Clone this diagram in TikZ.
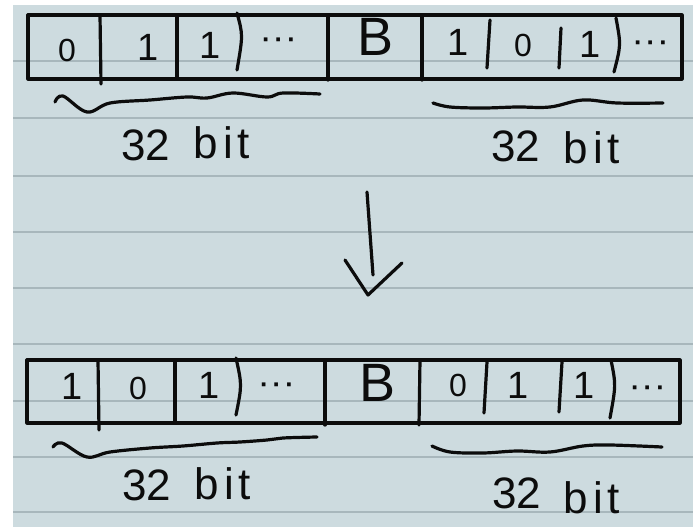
\documentclass[tikz,border=0pt]{standalone}
\usepackage{fontspec}
\setmainfont{Liberation Sans}
\definecolor{paper}{RGB}{205,219,223}
\definecolor{rule}{RGB}{168,183,188}
\definecolor{ink}{RGB}{12,12,12}
\begin{document}
\begin{tikzpicture}[x=1pt,y=-1pt,
  pen/.style={draw=ink,line width=3.2pt,line cap=round,line join=round},
  ruled/.style={draw=rule,line width=2pt},
  digit/.style={inner sep=0pt,text=ink,font=\fontsize{38}{38}\selectfont},
  zero/.style={inner sep=0pt,text=ink,font=\fontsize{32}{32}\selectfont},
  dots/.style={inner sep=0pt,text=ink,font=\fontsize{26}{26}\selectfont\bfseries},
  bigB/.style={inner sep=0pt,text=ink,font=\fontsize{54}{54}\selectfont},
  lbl/.style={inner sep=0pt,text=ink,font=\fontsize{44}{44}\selectfont}]
\useasboundingbox (0,0) rectangle (699,527);
\fill[white] (0,0) rectangle (699,527);
\fill[paper] (13,5) rectangle (693,527);
\foreach \yy in {61,118,176,232,288,344,401,457,512}
  \draw[ruled] (13,\yy) -- (693,\yy);

% ---------- top register ----------
\draw[pen] (28,15) rectangle (682,79);
\draw[pen] (100,15) -- (101,84);
\draw[pen] (177,15) -- (177,79);
\draw[pen] (237,13) .. controls (243,35) .. (237,70);
\draw[pen] (328,15) -- (328,80);
\draw[pen] (422,15) -- (422,80);
\draw[pen] (490,20) -- (487,68);
\draw[pen] (561,28) -- (559,68);
\draw[pen] (616,18) .. controls (621,45) .. (614,72);

\node[zero]  (t1) at (67,50) {0};
\node[digit] (t2) at (148,47) {1};
\node[digit] (t3) at (210,45) {1};
\node[dots]  (t4) at (279,43) {·\hspace{4pt}·\hspace{4pt}·};
\node[bigB]  (t5) at (376,37) {B};
\node[digit] (t6) at (458,42) {1};
\node[zero]  (t7) at (523,45) {0};
\node[digit] (t8) at (590,44) {1};
\node[dots]  (t9) at (651,46) {·\hspace{4pt}·\hspace{4pt}·};

\draw[pen] plot[smooth,tension=0.6] coordinates {(55,102) (63,96) (87,112) (110,103) (150,100) (187,97) (207,98) (233,93) (267,97) (283,93) (320,94)};
\draw[pen] plot[smooth,tension=0.6] coordinates {(433,103) (450,107) (483,108) (517,107) (550,107) (583,100) (617,103) (663,103)};

\node[lbl] (tl32) at (146,145) {32};
\node[lbl] (tlbit) at (222,143) {b\hspace{5pt}i\hspace{5pt}t};
\node[lbl] (tr32) at (516,146) {32};
\node[lbl] (trbit) at (592,148) {b\hspace{5pt}i\hspace{5pt}t};

% ---------- arrow ----------
\coordinate (a1) at (367,192);
\coordinate (a2) at (373,275);
\coordinate (hl) at (345,260);
\coordinate (tip) at (368,295);
\coordinate (hr) at (402,263);
\draw[pen] (a1) -- (a2);
\draw[pen] (hl) -- (tip) -- (hr);

% ---------- bottom register ----------
\draw[pen] (27,360) rectangle (680,423);
\draw[pen] (98,360) -- (99,430);
\draw[pen] (175,360) -- (175,423);
\draw[pen] (236,358) .. controls (242,385) .. (236,415);
\draw[pen] (325,360) -- (325,425);
\draw[pen] (420,360) -- (419,425);
\draw[pen] (487,362) -- (484,413);
\draw[pen] (562,362) -- (559,412);
\draw[pen] (611,360) .. controls (616,385) .. (610,418);

\node[digit] (b1) at (72,386) {1};
\node[zero]  (b2) at (138,388) {0};
\node[digit] (b3) at (209,385) {1};
\node[dots]  (b4) at (277,388) {·\hspace{4pt}·\hspace{4pt}·};
\node[bigB]  (b5) at (378,383) {B};
\node[zero]  (b6) at (458,385) {0};
\node[digit] (b7) at (518,385) {1};
\node[digit] (b8) at (584,385) {1};
\node[dots]  (b9) at (648,391) {·\hspace{4pt}·\hspace{4pt}·};

\draw[pen] plot[smooth,tension=0.6] coordinates {(53,447) (62,443) (87,457) (110,452) (150,448) (183,446) (217,443) (240,442) (267,440) (283,438) (317,437)};
\draw[pen] plot[smooth,tension=0.6] coordinates {(432,446) (450,452) (483,453) (517,451) (550,452) (583,446) (610,445) (662,447)};

\node[lbl] (bl32) at (147,485) {32};
\node[lbl] (blbit) at (223,484) {b\hspace{5pt}i\hspace{5pt}t};
\node[lbl] (br32) at (517,493) {32};
\node[lbl] (brbit) at (592,498) {b\hspace{5pt}i\hspace{5pt}t};
\end{tikzpicture}
\end{document}
